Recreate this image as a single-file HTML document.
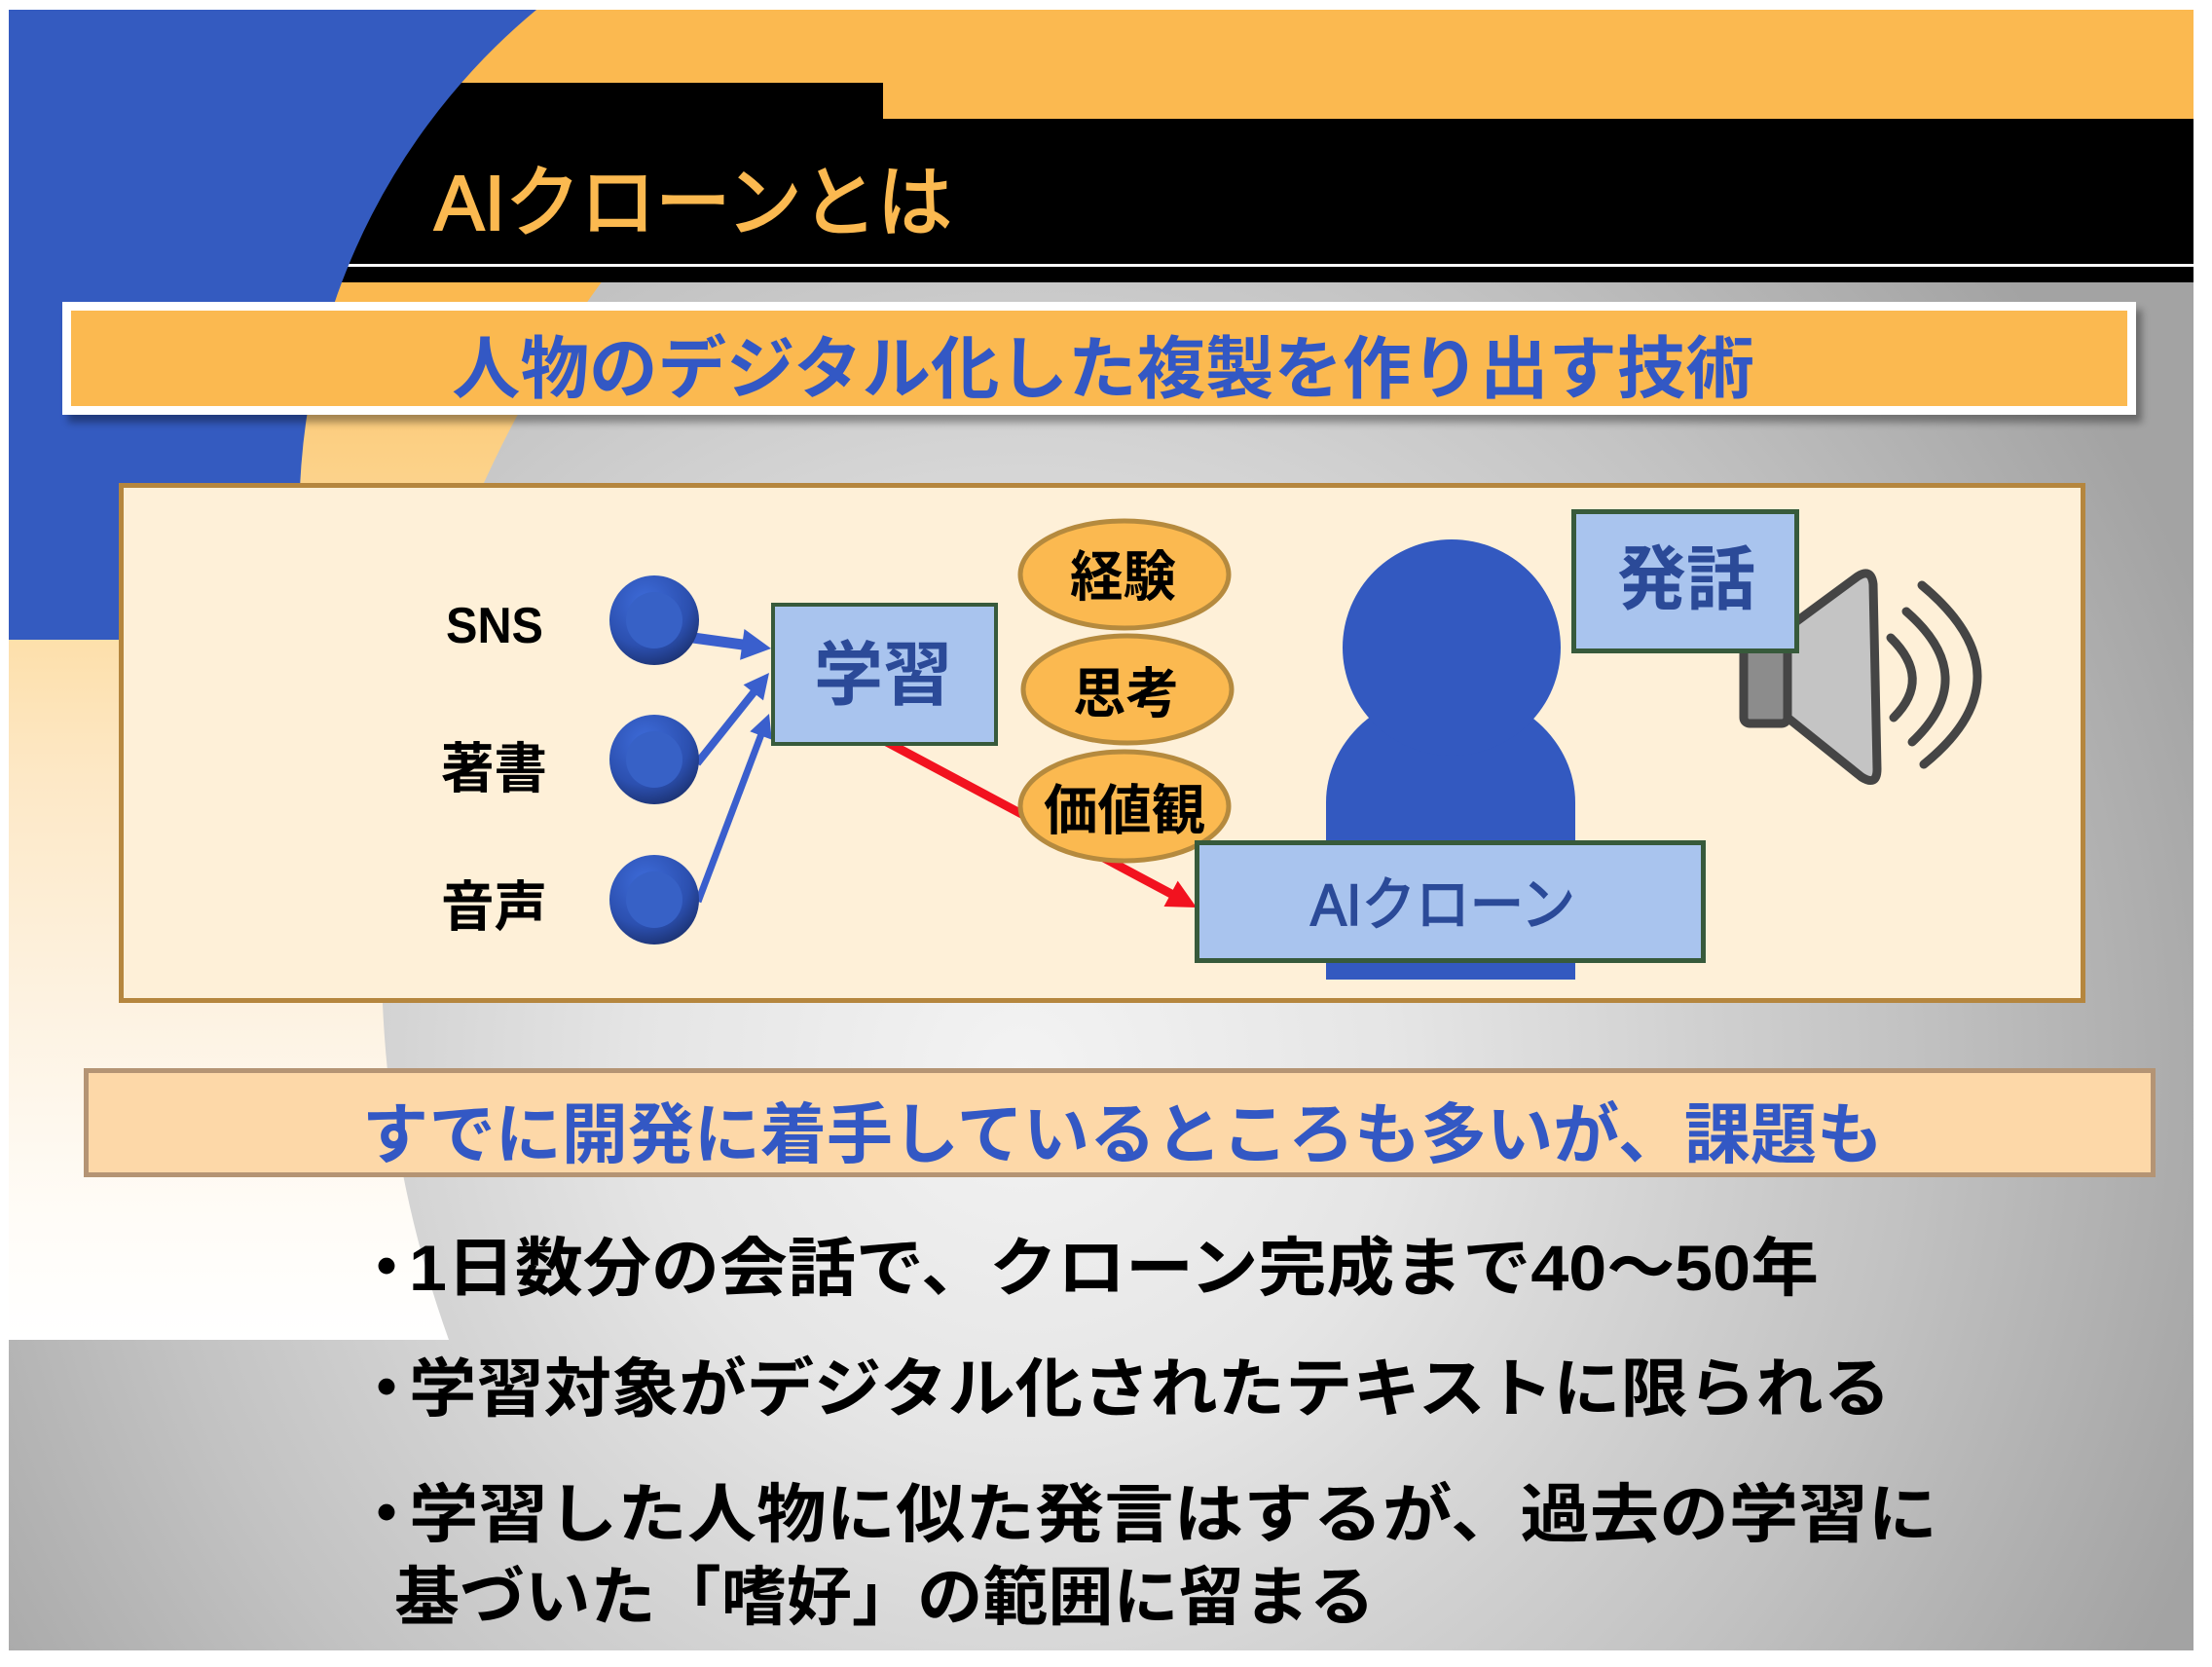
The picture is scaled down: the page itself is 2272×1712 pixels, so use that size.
<!DOCTYPE html>
<html><head><meta charset="utf-8">
<style>
html,body{margin:0;padding:0;background:#fff;}
svg{display:block;}
text{font-family:"Liberation Sans","Noto Sans CJK JP",sans-serif;}
</style></head><body>
<svg width="2272" height="1712" viewBox="0 0 2272 1712" xmlns="http://www.w3.org/2000/svg">
<defs>
<radialGradient id="bg" gradientUnits="userSpaceOnUse" cx="1050" cy="1100" r="1300">
<stop offset="0" stop-color="#f3f3f3"/>
<stop offset="0.3" stop-color="#e5e5e5"/>
<stop offset="0.7" stop-color="#c2c2c2"/>
<stop offset="1" stop-color="#a3a3a3"/>
</radialGradient>
<linearGradient id="og" gradientUnits="userSpaceOnUse" x1="0" y1="0" x2="0" y2="1376">
<stop offset="0" stop-color="#fbb950"/>
<stop offset="0.235" stop-color="#fbb950"/>
<stop offset="0.312" stop-color="#fccd7e"/>
<stop offset="0.436" stop-color="#fddca0"/>
<stop offset="0.58" stop-color="#fde8c6"/>
<stop offset="0.763" stop-color="#fdf3e3"/>
<stop offset="0.908" stop-color="#fffcf7"/>
<stop offset="1" stop-color="#ffffff"/>
</linearGradient>
<radialGradient id="btn" cx="0.4" cy="0.3" r="0.75">
<stop offset="0" stop-color="#3e6cda"/>
<stop offset="0.65" stop-color="#2c50b0"/>
<stop offset="1" stop-color="#1b3170"/>
</radialGradient>
<filter id="blur" x="-5%" y="-30%" width="110%" height="160%"><feGaussianBlur stdDeviation="4"/></filter>
</defs>

<!-- slide background -->
<rect x="9" y="10" width="2244" height="1685" fill="url(#bg)"/>
<path d="M9,10 H2253 V290 H617.6 A1168,1168 0 0 0 461,1376 H9 Z" fill="url(#og)"/>
<path d="M300,85 H907 V122 H2253 V290 H300 Z" fill="#000"/>
<rect x="300" y="271" width="1953" height="3" fill="#fff"/>
<path d="M9,10 H551 A673,673 0 0 0 320,657 H9 Z" fill="#345bc0"/>

<!-- title -->
<text x="446" y="236" font-size="80" fill="#fbb950" stroke="#fbb950" stroke-width="2" textLength="532" lengthAdjust="spacingAndGlyphs">AIクローンとは</text>

<!-- subtitle 1 -->
<rect x="70" y="318" width="2130" height="116" fill="#000" opacity="0.35" filter="url(#blur)"/>
<rect x="64" y="310" width="2130" height="116" fill="#fff"/>
<rect x="73" y="319" width="2112" height="98" fill="#fbb950"/>
<text x="464" y="403" font-size="70" font-weight="bold" fill="#3358c4" textLength="1338" lengthAdjust="spacingAndGlyphs">人物のデジタル化した複製を作り出す技術</text>

<!-- diagram box -->
<rect x="124.5" y="498.5" width="2015" height="529" fill="#fef0d8" stroke="#b5863e" stroke-width="5"/>

<!-- red arrow -->
<line x1="907" y1="760" x2="1203" y2="918" stroke="#f2121f" stroke-width="9"/>
<polygon points="1229,932 1195.5,931 1209.7,904.6" fill="#f2121f"/>

<!-- blue arrows -->
<line x1="712" y1="655" x2="763" y2="662" stroke="#3a5fcd" stroke-width="11"/>
<polygon points="792,666 760.1,677.8 764.5,646" fill="#3a5fcd"/>
<line x1="716" y1="784" x2="775" y2="710" stroke="#3a5fcd" stroke-width="8"/>
<polygon points="790,691 784,719.4 763.6,703.2" fill="#3a5fcd"/>
<line x1="717" y1="926" x2="782" y2="754" stroke="#3a5fcd" stroke-width="7"/>
<polygon points="790,733 792.7,759.6 770.3,751.2" fill="#3a5fcd"/>

<!-- input buttons -->
<g>
<circle cx="672" cy="637" r="46" fill="url(#btn)"/>
<circle cx="672" cy="637" r="29" fill="#3761c6"/>
<circle cx="672" cy="780" r="46" fill="url(#btn)"/>
<circle cx="672" cy="780" r="29" fill="#3761c6"/>
<circle cx="672" cy="924" r="46" fill="url(#btn)"/>
<circle cx="672" cy="924" r="29" fill="#3761c6"/>
</g>

<!-- labels -->
<text x="458" y="660" font-size="52" font-weight="bold" fill="#000" textLength="100" lengthAdjust="spacingAndGlyphs">SNS</text>
<text x="453" y="809" font-size="56" font-weight="bold" fill="#000" textLength="109" lengthAdjust="spacingAndGlyphs">著書</text>
<text x="453" y="951" font-size="56" font-weight="bold" fill="#000" textLength="109" lengthAdjust="spacingAndGlyphs">音声</text>

<!-- 学習 box -->
<rect x="794" y="621" width="229" height="143" fill="#a9c4ee" stroke="#375a3b" stroke-width="4"/>
<text x="836" y="718" font-size="72" font-weight="bold" fill="#2b4a98" textLength="142" lengthAdjust="spacingAndGlyphs">学習</text>

<!-- ellipses -->
<ellipse cx="1155" cy="590" rx="107" ry="55" fill="#fbb950" stroke="#b58a3e" stroke-width="5"/>
<ellipse cx="1158" cy="708" rx="107" ry="55" fill="#fbb950" stroke="#b58a3e" stroke-width="5"/>
<ellipse cx="1155" cy="828" rx="107" ry="56" fill="#fbb950" stroke="#b58a3e" stroke-width="5"/>
<text x="1099" y="612" font-size="56" font-weight="bold" fill="#000" textLength="109" lengthAdjust="spacingAndGlyphs">経験</text>
<text x="1102" y="732" font-size="56" font-weight="bold" fill="#000" textLength="109" lengthAdjust="spacingAndGlyphs">思考</text>
<text x="1072" y="852" font-size="56" font-weight="bold" fill="#000" textLength="166" lengthAdjust="spacingAndGlyphs">価値観</text>

<!-- person -->
<path d="M1362,1006 V824 A128,115 0 0 1 1618,824 V1006 Z" fill="#3359c0"/>
<ellipse cx="1491" cy="665" rx="112" ry="111" fill="#3359c0"/>

<!-- speaker -->
<rect x="1791" y="630" width="45" height="113" rx="6" fill="#8c8c8c" stroke="#454545" stroke-width="9"/>
<path d="M1836,645 L1908,592 Q1922,583 1924,600 L1928,790 Q1928,808 1912,798 L1836,737 Z" fill="#c4c4c4" stroke="#454545" stroke-width="9" stroke-linejoin="round"/>
<g fill="none" stroke="#454545" stroke-width="9" stroke-linecap="round">
<path d="M1942,655 Q1985,697 1945,737"/>
<path d="M1958,628 Q2035,695 1964,762"/>
<path d="M1974,601 Q2087,695 1976,785"/>
</g>

<!-- 発話 box -->
<rect x="1616.5" y="525.5" width="229" height="143" fill="#a9c4ee" stroke="#375a3b" stroke-width="5"/>
<text x="1661" y="620" font-size="72" font-weight="bold" fill="#2b4a98" textLength="142" lengthAdjust="spacingAndGlyphs">発話</text>

<!-- AIクローン box -->
<rect x="1229.5" y="865.5" width="520" height="121" fill="#a9c4ee" stroke="#375a3b" stroke-width="5"/>
<text x="1346" y="950" font-size="60" fill="#2b4a98" stroke="#2b4a98" stroke-width="1.6" textLength="272" lengthAdjust="spacingAndGlyphs">AIクローン</text>

<!-- subtitle 2 -->
<rect x="88.5" y="1099.5" width="2123" height="107" fill="#fdd8a8" stroke="#b49474" stroke-width="5"/>
<text x="372" y="1189" font-size="68" font-weight="bold" fill="#3358c4" textLength="1562" lengthAdjust="spacingAndGlyphs">すでに開発に着手しているところも多いが、課題も</text>

<!-- bullets -->
<g font-size="66" font-weight="bold" fill="#000">
<text x="397" y="1325" text-anchor="middle">・</text>
<text x="420" y="1325" textLength="1448" lengthAdjust="spacingAndGlyphs">1日数分の会話で、クローン完成まで40～50年</text>
<text x="397" y="1449" text-anchor="middle">・</text>
<text x="420" y="1449" textLength="1522" lengthAdjust="spacingAndGlyphs">学習対象がデジタル化されたテキストに限られる</text>
<text x="397" y="1578" text-anchor="middle">・</text>
<text x="420" y="1578" textLength="1570" lengthAdjust="spacingAndGlyphs">学習した人物に似た発言はするが、過去の学習に</text>
<text x="405" y="1663" textLength="1007" lengthAdjust="spacingAndGlyphs">基づいた「嗜好」の範囲に留まる</text>
</g>
</svg>
</body></html>
